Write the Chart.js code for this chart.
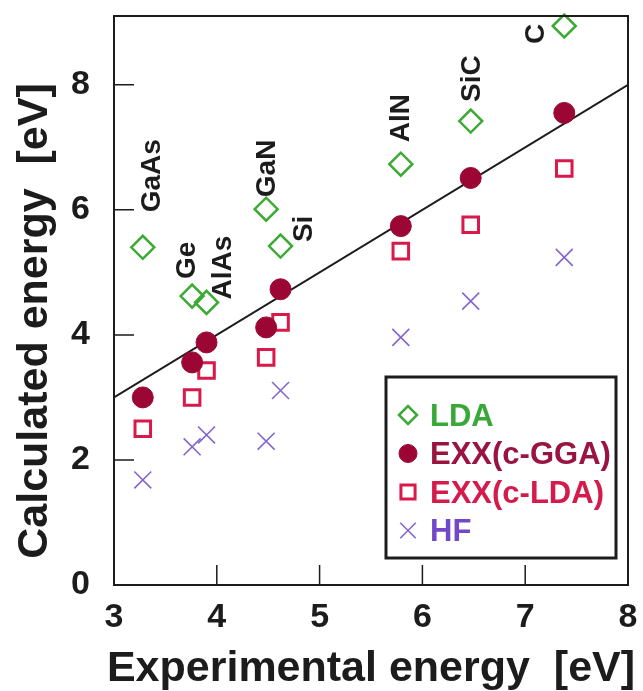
<!DOCTYPE html>
<html>
<head>
<meta charset="utf-8">
<script src="https://cdn.jsdelivr.net/npm/chart.js@4/dist/chart.umd.min.js"></script>
<style>
  html, body { margin: 0; padding: 0; background: #fff; }
  #wrap { width: 643px; height: 691px; }
</style>
</head>
<body>
<div id="wrap"><canvas id="c" width="643" height="691"></canvas></div>
<script>
// data
const materials = ["GaAs", "Ge", "AlAs", "GaN", "Si", "AlN", "SiC", "C"];
const experimental = [3.28, 3.76, 3.90, 4.48, 4.62, 5.79, 6.47, 7.38];
const lda = [5.40, 4.62, 4.52, 6.01, 5.42, 6.73, 7.42, 8.94];
const exxGGA = [3.00, 3.56, 3.88, 4.12, 4.73, 5.74, 6.51, 7.55];
const exxLDA = [2.50, 3.00, 3.43, 3.64, 4.20, 5.34, 5.76, 6.66];
const hf = [1.68, 2.21, 2.40, 2.30, 3.11, 3.96, 4.54, 5.24];
const diagonal = [3, 8];
const xTicks = [3, 4, 5, 6, 7, 8];
const yTicks = [0, 2, 4, 6, 8];

// where each compound name sits relative to its LDA diamond (px)
const labelNudge = [[8, -35], [-6, -17], [16, -3], [0, -12], [23, -4], [-1, -22], [1, -19], [-29, 18]];

const FONT = "'Liberation Sans', Arial, Helvetica, sans-serif";
const INK = "#1c1c1c";

const pts = (ys) => ys.map((y, i) => ({ x: experimental[i], y }));

const frame = {
  id: "frame",
  afterDraw(chart) {
    const { ctx, chartArea: a, scales: { x, y } } = chart;
    ctx.save();
    ctx.strokeStyle = INK;
    ctx.lineWidth = 2;
    ctx.strokeRect(a.left, a.top, a.right - a.left, a.bottom - a.top);
    // inward ticks
    ctx.beginPath();
    y.ticks.forEach(t => {
      if (t.value <= y.min || t.value >= y.max) return;
      const py = y.getPixelForValue(t.value);
      ctx.moveTo(a.left, py); ctx.lineTo(a.left + 20, py);
    });
    x.ticks.forEach(t => {
      if (t.value <= x.min || t.value >= x.max) return;
      const px = x.getPixelForValue(t.value);
      ctx.moveTo(px, a.bottom); ctx.lineTo(px, a.bottom - 20);
    });
    ctx.lineWidth = 1.5;
    ctx.stroke();

    // axis titles
    ctx.fillStyle = INK;
    ctx.font = `bold 43px ${FONT}`;
    ctx.textAlign = "center";
    ctx.textBaseline = "alphabetic";
    ctx.fillText("Experimental energy  [eV]", (a.left + a.right) / 2, 681);
    ctx.translate(47, 321);
    ctx.rotate(-Math.PI / 2);
    ctx.fillText("Calculated energy  [eV]", 0, 0);
    ctx.restore();

    // legend box
    const lx = 386, ly = 377, lw = 230, lh = 181;
    ctx.save();
    ctx.lineWidth = 3;
    ctx.strokeStyle = INK;
    ctx.strokeRect(lx, ly, lw, lh);
    const rows = [0, 1, 2, 3];
    const textColors = ["#38a838", "#9a1440", "#d41c4c", "#7048c8"];
    const legendRadius = [9, 9, 10, 11];
    ctx.font = `bold 31px ${FONT}`;
    ctx.textAlign = "left";
    ctx.textBaseline = "middle";
    rows.forEach(i => {
      const ds = chart.data.datasets[i];
      const cy = 415 + i * 38.5;
      ctx.save();
      ctx.strokeStyle = ds.borderColor;
      ctx.fillStyle = ds.backgroundColor;
      ctx.lineWidth = ds.borderWidth;
      Chart.helpers.drawPoint(ctx, { pointStyle: ds.pointStyle, radius: legendRadius[i], borderWidth: ds.borderWidth }, 408, cy);
      ctx.restore();
      ctx.fillStyle = textColors[i];
      ctx.fillText(ds.label, 430, cy + 2);
    });
    ctx.restore();
  },
  afterDatasetsDraw(chart) {
    const { ctx } = chart;
    const meta = chart.getDatasetMeta(0);
    ctx.save();
    ctx.fillStyle = INK;
    ctx.font = `bold 28px ${FONT}`;
    ctx.textAlign = "left";
    ctx.textBaseline = "middle";
    meta.data.forEach((p, i) => {
      ctx.save();
      ctx.translate(p.x + labelNudge[i][0], p.y + labelNudge[i][1]);
      ctx.rotate(-Math.PI / 2);
      ctx.fillText(materials[i], 0, 1);
      ctx.restore();
    });
    ctx.restore();
  }
};

new Chart(document.getElementById("c"), {
  type: "scatter",
  data: {
    datasets: [
      { label: "LDA", data: pts(lda), pointStyle: "rectRot", pointRadius: 11.5, borderColor: "#3caa34", backgroundColor: "rgba(0,0,0,0)", borderWidth: 2.5, clip: false },
      { label: "EXX(c-GGA)", data: pts(exxGGA), pointStyle: "circle", pointRadius: 10.5, borderColor: "#9c0634", backgroundColor: "#9c0634", borderWidth: 1, clip: false },
      { label: "EXX(c-LDA)", data: pts(exxLDA), pointStyle: "rect", pointRadius: 11, borderColor: "#d8194a", backgroundColor: "rgba(0,0,0,0)", borderWidth: 3, clip: false },
      { label: "HF", data: pts(hf), pointStyle: "crossRot", pointRadius: 12, borderColor: "#8466cc", backgroundColor: "#8466cc", borderWidth: 1.6, clip: false },
      { label: "y = x", data: diagonal.map(v => ({ x: v, y: v })), showLine: true, pointRadius: 0, borderColor: INK, borderWidth: 2, order: 10 }
    ]
  },
  options: {
    responsive: false,
    animation: false,
    events: [],
    layout: { padding: { top: 16, right: 15, left: 0, bottom: 0 } },
    plugins: { legend: { display: false }, tooltip: { enabled: false } },
    scales: {
      x: {
        type: "linear", min: xTicks[0], max: xTicks[xTicks.length - 1],
        afterBuildTicks: s => { s.ticks = xTicks.map(v => ({ value: v })); },
        afterFit: s => { s.height = 106; s.paddingLeft = 0; s.paddingRight = 0; },
        grid: { display: false, drawTicks: false },
        border: { display: false },
        ticks: { padding: 12, color: INK, font: { family: FONT, size: 34, weight: "bold" } }
      },
      y: {
        type: "linear", min: 0, max: 9.1,
        afterBuildTicks: s => { s.ticks = yTicks.map(v => ({ value: v })); },
        afterFit: s => { s.width = 114; s.paddingTop = 0; s.paddingBottom = 0; },
        grid: { display: false, drawTicks: false },
        border: { display: false },
        ticks: { padding: 24, color: INK, font: { family: FONT, size: 34, weight: "bold" } }
      }
    }
  },
  plugins: [frame]
});
</script>
</body>
</html>
